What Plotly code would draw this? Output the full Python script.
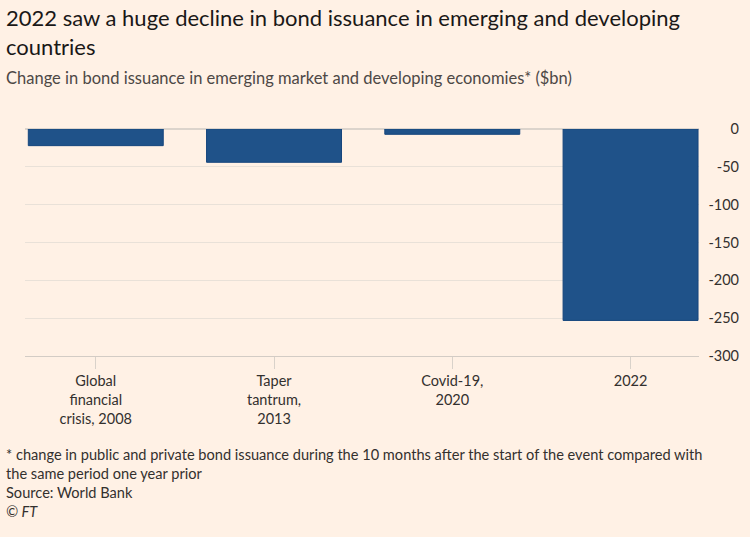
import plotly.graph_objects as go

categories = ["Global<br>financial<br>crisis, 2008", "Taper<br>tantrum,<br>2013", "Covid-19,<br>2020", "2022"]
values = [-22, -44, -7, -253]
tick_vals = [0, -50, -100, -150, -200, -250, -300]
tick_text = ["0", "-50", "-100", "-150", "-200", "-250", "-300"]

title_text = "2022 saw a huge decline in bond issuance in emerging and developing<br>countries"
subtitle_text = "Change in bond issuance in emerging market and developing economies* ($bn)"
footer_text = ("* change in public and private bond issuance during the 10 months after the start of the event compared with<br>"
               "the same period one year prior<br>Source: World Bank<br><i>© FT</i>")

W, H = 750, 537
ML, MR, MT, MB = 25, 11, 128.5, 181
PW = W - ML - MR
PH = H - MT - MB

def px(x):
    return (x - ML) / PW

def py(y):
    return (H - MB - y) / PH

FONT = "Lato, Liberation Sans, sans-serif"
BG = "#fff1e5"

fig = go.Figure()
fig.add_trace(go.Bar(
    x=categories, y=values,
    marker=dict(color="#1f5289", line=dict(color="#16467d", width=1)),
    hoverinfo="skip",
))

fig.update_layout(
    width=W, height=H,
    margin=dict(l=ML, r=MR, t=MT, b=MB, autoexpand=False),
    paper_bgcolor=BG, plot_bgcolor=BG,
    showlegend=False,
    bargap=0.243,
    font=dict(family=FONT, size=14, color="#33302e"),
    xaxis=dict(
        type="category",
        domain=[0, px(699)],
        range=[-0.397, 3.384],
        ticks="outside", ticklen=12, tickcolor="#d9d2ca", tickwidth=1,
        showgrid=False, showline=True, linecolor="#d3ccc5", linewidth=1,
        tickfont=dict(size=14.5, color="#33302e"),
        fixedrange=True,
    ),
    yaxis=dict(
        range=[-300, 0],
        tickvals=tick_vals, ticktext=tick_text,
        side="left", anchor="free", position=1,
        ticks="", showline=False,
        gridcolor="#e9e1d8", gridwidth=1,
        zeroline=True, zerolinecolor="#dcd4cc", zerolinewidth=2,
        tickfont=dict(size=14.5, color="#33302e"),
        fixedrange=True,
    ),
)

fig.add_annotation(text=title_text, xref="paper", yref="paper", x=px(4), y=py(1),
                   xanchor="left", yanchor="top", align="left", showarrow=False,
                   font=dict(size=22, color="#1a1817", family=FONT))
fig.add_annotation(text=subtitle_text, xref="paper", yref="paper", x=px(4), y=py(65),
                   xanchor="left", yanchor="top", align="left", showarrow=False,
                   font=dict(size=16.5, color="#4d4845", family=FONT))
fig.add_annotation(text=footer_text, xref="paper", yref="paper", x=px(4), y=py(444),
                   xanchor="left", yanchor="top", align="left", showarrow=False,
                   font=dict(size=14.6, color="#33302e", family=FONT))

fig.write_html("out.html", config={"displayModeBar": False},
               post_script="document.body.style.margin='0';")
